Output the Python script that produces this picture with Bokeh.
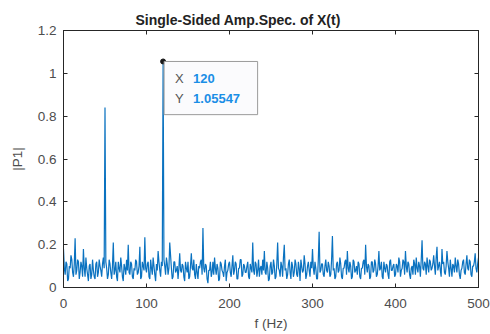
from bokeh.plotting import figure
from bokeh.models import LinearAxis, Label, FixedTicker, Range1d
from bokeh.embed import file_html
from bokeh.resources import INLINE

# frequency axis (Hz), 1 Hz steps
freqs = list(range(0, 501))

# single-sided amplitude |P1|, one row per 20 Hz
amp = [
    0.18, 0.09, 0.06, 0.12, 0.11, 0.03, 0.04, 0.10, 0.09, 0.15, 0.13, 0.07, 0.05, 0.11, 0.23, 0.06, 0.08, 0.13, 0.12, 0.04,  # 0
    0.07, 0.12, 0.10, 0.05, 0.18, 0.09, 0.05, 0.14, 0.09, 0.06, 0.03, 0.10, 0.11, 0.04, 0.06, 0.13, 0.08, 0.05, 0.04, 0.11,  # 20
    0.12, 0.05, 0.07, 0.13, 0.10, 0.08, 0.05, 0.11, 0.14, 0.09, 0.84, 0.12, 0.09, 0.04, 0.06, 0.13, 0.11, 0.07, 0.04, 0.10,  # 40
    0.21, 0.06, 0.08, 0.12, 0.05, 0.03, 0.12, 0.09, 0.07, 0.14, 0.10, 0.05, 0.03, 0.11, 0.09, 0.06, 0.13, 0.08, 0.20, 0.07,  # 60
    0.06, 0.12, 0.11, 0.05, 0.04, 0.09, 0.08, 0.13, 0.12, 0.06, 0.07, 0.10, 0.19, 0.04, 0.05, 0.12, 0.10, 0.08, 0.235, 0.09,  # 80
    0.07, 0.11, 0.12, 0.05, 0.04, 0.13, 0.09, 0.06, 0.14, 0.10, 0.06, 0.03, 0.11, 0.08, 0.17, 0.12, 0.08, 0.05, 0.12, 0.10,  # 100
    1.05547, 0.13, 0.10, 0.06, 0.14, 0.11, 0.06, 0.09, 0.21, 0.15, 0.09, 0.04, 0.05, 0.12, 0.12, 0.07, 0.08, 0.10, 0.04, 0.09,  # 120
    0.16, 0.08, 0.07, 0.11, 0.10, 0.05, 0.03, 0.12, 0.09, 0.07, 0.12, 0.04, 0.05, 0.10, 0.16, 0.09, 0.08, 0.13, 0.06, 0.04,  # 140
    0.11, 0.07, 0.04, 0.10, 0.09, 0.12, 0.13, 0.06, 0.278, 0.09, 0.07, 0.11, 0.10, 0.04, 0.02, 0.08, 0.08, 0.12, 0.05, 0.07,  # 160
    0.12, 0.06, 0.14, 0.09, 0.06, 0.11, 0.09, 0.03, 0.04, 0.12, 0.11, 0.08, 0.07, 0.05, 0.10, 0.13, 0.03, 0.07, 0.08, 0.11,  # 180
    0.12, 0.07, 0.05, 0.10, 0.15, 0.06, 0.08, 0.12, 0.11, 0.04, 0.04, 0.09, 0.09, 0.13, 0.13, 0.05, 0.06, 0.11, 0.10, 0.07,  # 200
    0.07, 0.10, 0.12, 0.05, 0.04, 0.11, 0.09, 0.07, 0.21, 0.08, 0.06, 0.12, 0.11, 0.05, 0.08, 0.13, 0.05, 0.09, 0.10, 0.06,  # 220
    0.13, 0.08, 0.17, 0.07, 0.06, 0.12, 0.09, 0.03, 0.04, 0.10, 0.12, 0.06, 0.07, 0.13, 0.10, 0.04, 0.05, 0.11, 0.21, 0.09,  # 240
    0.08, 0.05, 0.12, 0.10, 0.05, 0.14, 0.20, 0.08, 0.09, 0.04, 0.06, 0.11, 0.13, 0.07, 0.04, 0.12, 0.10, 0.05, 0.07, 0.13,  # 260
    0.11, 0.06, 0.05, 0.12, 0.09, 0.03, 0.13, 0.10, 0.07, 0.08, 0.15, 0.11, 0.04, 0.06, 0.10, 0.12, 0.08, 0.05, 0.12, 0.09,  # 280
    0.18, 0.09, 0.06, 0.12, 0.09, 0.04, 0.04, 0.13, 0.26, 0.07, 0.08, 0.11, 0.11, 0.06, 0.05, 0.10, 0.13, 0.08, 0.07, 0.12,  # 300
    0.10, 0.05, 0.06, 0.13, 0.24, 0.08, 0.09, 0.04, 0.05, 0.11, 0.12, 0.07, 0.08, 0.14, 0.11, 0.05, 0.04, 0.09, 0.09, 0.12,  # 320
    0.13, 0.06, 0.17, 0.09, 0.07, 0.12, 0.10, 0.04, 0.05, 0.13, 0.12, 0.07, 0.08, 0.10, 0.06, 0.12, 0.11, 0.05, 0.04, 0.09,  # 340
    0.09, 0.12, 0.13, 0.06, 0.20, 0.10, 0.07, 0.11, 0.10, 0.04, 0.05, 0.12, 0.12, 0.07, 0.08, 0.13, 0.11, 0.05, 0.06, 0.10,  # 360
    0.17, 0.08, 0.09, 0.12, 0.05, 0.04, 0.12, 0.09, 0.07, 0.11, 0.10, 0.06, 0.04, 0.12, 0.13, 0.08, 0.08, 0.10, 0.11, 0.05,  # 380
    0.06, 0.11, 0.10, 0.07, 0.14, 0.12, 0.05, 0.08, 0.09, 0.13, 0.12, 0.06, 0.17, 0.10, 0.07, 0.12, 0.11, 0.06, 0.04, 0.09,  # 400
    0.10, 0.06, 0.13, 0.11, 0.06, 0.14, 0.09, 0.07, 0.12, 0.10, 0.05, 0.13, 0.22, 0.09, 0.08, 0.12, 0.11, 0.06, 0.14, 0.10,  # 420
    0.07, 0.13, 0.12, 0.08, 0.09, 0.11, 0.15, 0.10, 0.06, 0.14, 0.19, 0.08, 0.10, 0.12, 0.08, 0.05, 0.18, 0.11, 0.12, 0.07,  # 440
    0.06, 0.10, 0.17, 0.12, 0.09, 0.05, 0.13, 0.09, 0.05, 0.11, 0.10, 0.07, 0.14, 0.10, 0.07, 0.13, 0.11, 0.06, 0.04, 0.08,  # 460
    0.09, 0.12, 0.13, 0.07, 0.06, 0.11, 0.15, 0.09, 0.08, 0.13, 0.12, 0.06, 0.05, 0.10, 0.10, 0.12, 0.16, 0.09, 0.07, 0.11,  # 480
    0.14,  # 500
]

x_ticks = [0, 100, 200, 300, 400, 500]
y_ticks = [0, 0.2, 0.4, 0.6, 0.8, 1.0, 1.2]

tip_x = 120
tip_y = 1.05547
tip_x_text = "120"
tip_y_text = "1.05547"

title_text = "Single-Sided Amp.Spec. of X(t)"
x_label = "f (Hz)"
y_label = "|P1|"

FONT = "Liberation Sans"
LINE = "#0a72c0"
AX = "#262626"
TICKLBL = "#4d4d4d"
TIPBLUE = "#1a8ee6"

p = figure(width=490, height=334, output_backend="svg", toolbar_location=None,
           x_range=Range1d(0, 500), y_range=Range1d(0, 1.2),
           min_border_left=63, min_border_right=12, min_border_top=30, min_border_bottom=47)

p.title.text = title_text
p.title.align = "left"
p.title.offset = 72
p.title.vertical_align = "bottom"
p.title.standoff = 5
p.title.text_font = FONT
p.title.text_font_size = "14px"
p.title.text_font_style = "bold"
p.title.text_color = "#222222"

p.line(freqs, amp, line_color=LINE, line_width=1.2)
p.scatter([tip_x], [tip_y], size=5, color="#1a1a1a")

p.xgrid.visible = False
p.ygrid.visible = False
p.outline_line_color = AX
p.outline_line_width = 1

for ax in (p.xaxis[0], p.yaxis[0]):
    ax.axis_line_color = AX
    ax.major_tick_line_color = AX
    ax.major_tick_in = 4
    ax.major_tick_out = 0
    ax.minor_tick_line_color = None
    ax.major_label_text_font = FONT
    ax.major_label_text_font_size = "13.5px"
    ax.major_label_text_color = TICKLBL
    ax.axis_label_text_font = FONT
    ax.axis_label_text_font_size = "13.5px"
    ax.axis_label_text_font_style = "normal"
    ax.axis_label_text_color = TICKLBL

p.xaxis[0].ticker = FixedTicker(ticks=x_ticks)
p.yaxis[0].ticker = FixedTicker(ticks=y_ticks)
p.yaxis[0].major_label_overrides = {0: "0", 0.2: "0.2", 0.4: "0.4", 0.6: "0.6",
                                    0.8: "0.8", 1.0: "1", 1.2: "1.2"}
p.xaxis[0].axis_label = x_label
p.yaxis[0].axis_label = y_label
p.xaxis[0].major_label_standoff = 11
p.yaxis[0].major_label_standoff = 7
p.xaxis[0].axis_label_standoff = 5
p.yaxis[0].axis_label_standoff = 10

top = LinearAxis(ticker=FixedTicker(ticks=x_ticks), major_label_text_color=None,
                 major_label_text_font_size="1px",
                 major_tick_in=4, major_tick_out=0, minor_tick_line_color=None,
                 axis_line_color=AX, major_tick_line_color=AX, major_label_standoff=0)
right = LinearAxis(ticker=FixedTicker(ticks=y_ticks), major_label_text_color=None,
                   major_label_text_font_size="1px",
                   major_tick_in=4, major_tick_out=0, minor_tick_line_color=None,
                   axis_line_color=AX, major_tick_line_color=AX, major_label_standoff=0)
p.add_layout(top, "above")
p.add_layout(right, "right")

# data tip box (text painted in the box colour so only the box shows)
BOXBG = "#fbfbfd"
box = Label(x=tip_x, y=tip_y, x_offset=1, y_offset=0, text="Y  1.055470\nY  1.055470",
            text_font=FONT, text_font_size="14px", text_color=BOXBG,
            text_align="left", text_baseline="top",
            background_fill_color=BOXBG, border_line_color="#9a9a9a",
            border_line_width=1, padding=9)
p.add_layout(box)
for txt, xo, yo, col, style in [("X", 12, -17, "#555555", "normal"),
                                ("Y", 12, -37, "#555555", "normal"),
                                (tip_x_text, 30, -17, TIPBLUE, "bold"),
                                (tip_y_text, 30, -37, TIPBLUE, "bold")]:
    p.add_layout(Label(x=tip_x, y=tip_y, x_offset=xo, y_offset=yo, text=txt,
                       text_font=FONT, text_font_size="13px", text_color=col,
                       text_font_style=style, text_align="left", text_baseline="middle"))

open("out.html", "w").write(file_html(p, INLINE))
